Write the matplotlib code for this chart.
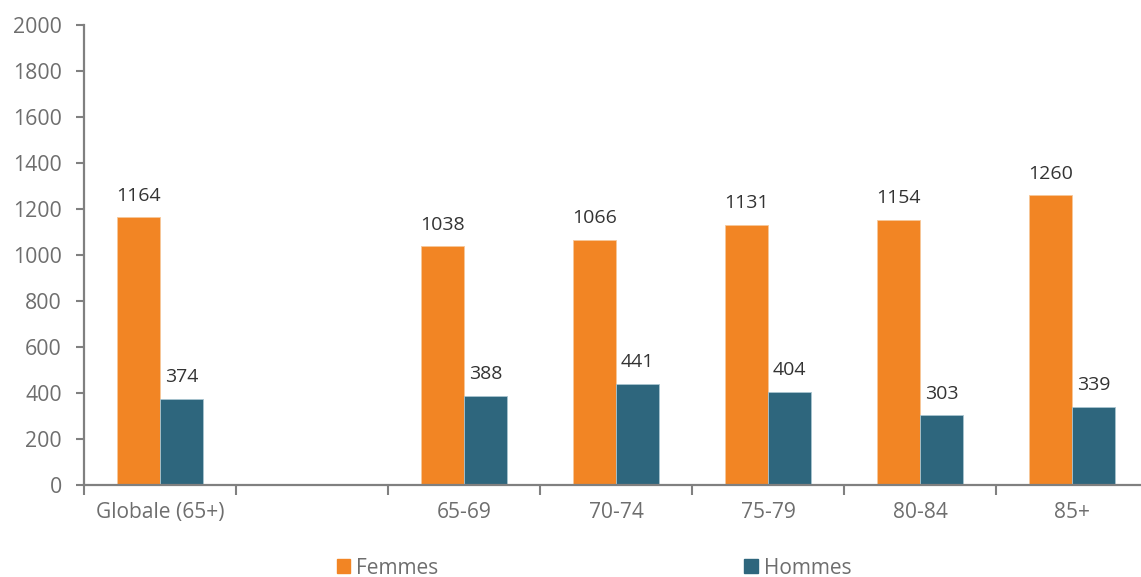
import numpy as np
import matplotlib.pyplot as plt

plt.rcParams['font.family'] = ['Open Sans', 'DejaVu Sans']

categories = ['Globale (65+)', '', '65-69', '70-74', '75-79', '80-84', '85+']
femmes = [1164, None, 1038, 1066, 1131, 1154, 1260]
hommes = [374, None, 388, 441, 404, 303, 339]

orange = '#F28524'
teal = '#2E667D'
grey = '#6E6E6E'

fig = plt.figure(figsize=(11.41, 5.77), dpi=100)
ax = fig.add_axes([84 / 1141, 92 / 577, 1064 / 1141, 460 / 577])

x = np.arange(len(categories))
w = 0.286
for i in range(len(categories)):
    if femmes[i] is None:
        continue
    ax.bar(x[i] - w / 2, femmes[i], w, color=orange, edgecolor='#f6c79a', linewidth=0.6)
    ax.bar(x[i] + w / 2, hommes[i], w, color=teal, edgecolor='#a9c4cf', linewidth=0.6)
    ax.text(x[i] - w / 2, femmes[i] + 55, str(femmes[i]), ha='center', va='bottom',
            fontsize=14, color='#333333')
    ax.text(x[i] + w / 2, hommes[i] + 55, str(hommes[i]), ha='center', va='bottom',
            fontsize=14, color='#333333')

ax.set_xlim(-0.5, len(categories) - 0.5)
ax.set_ylim(0, 2000)
ax.set_yticks(range(0, 2001, 200))

# boundaries get tick marks, category names sit on minor ticks
ax.set_xticks(np.arange(-0.5, len(categories), 1.0))
ax.set_xticklabels([])
ax.set_xticks(x, minor=True)
ax.set_xticklabels(categories, minor=True)
ax.tick_params(axis='x', which='major', length=7, width=1.5, color='#808080')
ax.tick_params(axis='x', which='minor', length=0, pad=12, labelsize=15.1, labelcolor=grey)
ax.tick_params(axis='y', length=6, width=1.5, color='#808080', pad=10,
               labelsize=15.3, labelcolor=grey)

for s in ['top', 'right']:
    ax.spines[s].set_visible(False)
for s in ['left', 'bottom']:
    ax.spines[s].set_color('#808080')
    ax.spines[s].set_linewidth(1.6)

handles = [plt.Rectangle((0, 0), 1, 1, color=orange), plt.Rectangle((0, 0), 1, 1, color=teal)]
fig.legend(handles, ['Femmes', 'Hommes'], loc='center', bbox_to_anchor=(594 / 1141, 9 / 577),
           ncol=2, frameon=False, fontsize=15, labelcolor=grey, handlelength=0.63,
           handleheight=0.63, handletextpad=0.3, columnspacing=14.7, borderaxespad=0)

fig.savefig('out.png', dpi=100)
